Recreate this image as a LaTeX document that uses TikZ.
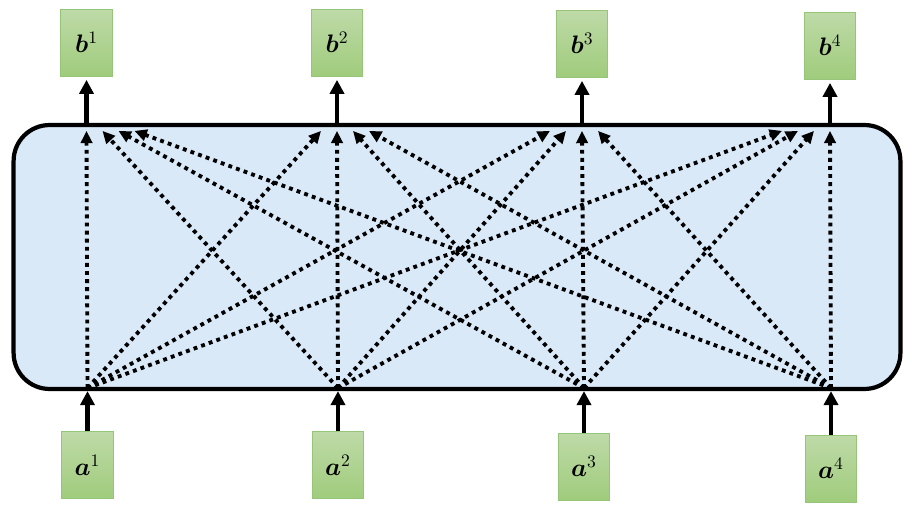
\documentclass[tikz,border=0pt]{standalone}
\usepackage{amsmath,bm}
\usetikzlibrary{arrows.meta}
\definecolor{layerblue}{RGB}{218,233,248}
\definecolor{vecgreentop}{RGB}{190,218,168}
\definecolor{vecgreenbot}{RGB}{160,204,124}
\definecolor{vecgreenline}{RGB}{150,196,120}
\tikzset{
  vecbox/.style={draw=vecgreenline, top color=vecgreentop, bottom color=vecgreenbot,
    minimum width=1.03cm, minimum height=1.34cm, inner sep=0pt, font=\Large},
  layer/.style={draw=black, line width=2.4pt, fill=layerblue, rounded corners=0.72cm,
    minimum width=17.74cm, minimum height=5.28cm},
  feed/.style={line width=2.6pt, -{Triangle[length=8pt,width=8pt]}},
  attend/.style={line width=2.2pt, dash pattern=on 2.2pt off 2.4pt, -{Triangle[length=7pt,width=6.5pt]}}
}
\begin{document}
\begin{tikzpicture}[x=0.02cm, y=0.02cm]
\useasboundingbox (0,0) rectangle (912,507);
% self-attention layer
\node[layer] (attn) at (457,250) {};
% outputs
\node[vecbox] (b1) at (86.5,464.5) {$\bm{b}^1$};
\node[vecbox] (b2) at (337,464.5) {$\bm{b}^2$};
\node[vecbox] (b3) at (582,463.5) {$\bm{b}^3$};
\node[vecbox] (b4) at (830,461.5) {$\bm{b}^4$};
% inputs
\node[vecbox] (a1) at (87.5,42) {$\bm{a}^1$};
\node[vecbox] (a2) at (338,42) {$\bm{a}^2$};
\node[vecbox] (a3) at (584,40.5) {$\bm{a}^3$};
\node[vecbox] (a4) at (831,38.5) {$\bm{a}^4$};
\foreach \k in {1,...,4} {
  \coordinate (top\k) at (attn.north -| b\k);
  \coordinate (bot\k) at (attn.south -| a\k);
  \draw[feed, shorten >=2pt] (top\k) -- (b\k.south);
  \draw[feed] (a\k.north) -- (bot\k);
}
% every input attends to every output
\foreach \i in {1,...,4} \foreach \j in {1,...,4} {
  \pgfmathsetmacro\dx{0.32*(\i-\j)}
  \draw[attend] ([yshift=0.06cm]bot\i) -- ([xshift=\dx cm, yshift=-0.16cm]top\j);
}
\end{tikzpicture}
\end{document}
